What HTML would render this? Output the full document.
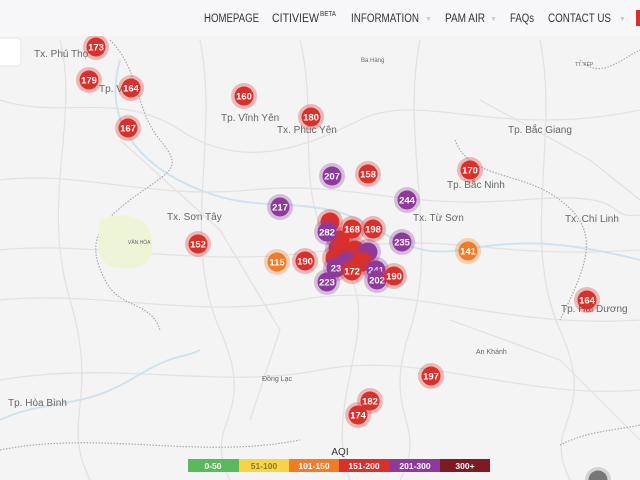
<!DOCTYPE html>
<html><head><meta charset="utf-8"><style>
html,body{margin:0;padding:0;width:640px;height:480px;overflow:hidden;background:#f4f4f4;font-family:"Liberation Sans",sans-serif}
</style></head><body>
<svg width="640" height="480" xmlns="http://www.w3.org/2000/svg" style="position:absolute;left:0;top:0">
<defs>
<g id="r"><circle r="13" fill="#d9302c" fill-opacity="0.3"/><circle r="9.5" fill="#d9302c"/></g>
<g id="p"><circle r="13" fill="#8e3a9d" fill-opacity="0.3"/><circle r="9.5" fill="#8e3a9d"/></g>
<g id="o"><circle r="13" fill="#f07c2a" fill-opacity="0.3"/><circle r="9.5" fill="#f07c2a"/></g>
</defs>
<rect width="640" height="480" fill="#f4f4f4"/>
<g fill="none" stroke="#e2e2e2" stroke-width="1.3">
<path d="M0 100 C60 120 120 90 180 130 S300 150 360 120 S500 140 640 110"/>
<path d="M0 180 C80 170 150 200 250 190 S400 210 520 200 S600 220 640 215"/>
<path d="M0 300 C100 290 200 320 300 300 S500 330 640 320"/>
<path d="M0 380 C120 360 220 390 320 370 S520 400 640 390"/>
<path d="M60 40 C80 120 40 200 70 300 S60 420 90 480"/>
<path d="M200 40 C220 140 180 240 220 330 S200 420 230 480"/>
<path d="M420 40 C400 140 440 240 410 330 S430 420 400 480"/>
<path d="M540 40 C560 140 520 240 560 330 S540 420 570 480"/>
<path d="M0 250 C100 240 200 270 330 250 S480 260 640 250"/>
<path d="M300 40 C320 120 290 200 340 260 S320 400 350 480"/>
<path d="M120 140 L220 230 L280 330 L250 420"/>
<path d="M480 100 L590 160 L640 200"/>
<path d="M450 320 L560 360 L640 440"/>
</g>
<g fill="none" stroke="#cfe3ef" stroke-width="2">
<path d="M120 60 C100 130 150 170 200 190 S280 200 330 210 S400 260 460 250 S560 240 640 260"/>
<path d="M0 420 C40 400 80 410 130 380 S180 360 200 350"/>
</g>
<g fill="none" stroke="#aaa" stroke-width="1.2" stroke-dasharray="1.5 1.5">
<path d="M110 40 C140 70 135 110 160 140 S170 170 130 200 S90 250 105 280 S150 300 160 330"/>
<path d="M580 60 C600 80 620 60 640 50"/>
<path d="M455 140 C470 180 520 170 560 200 S590 260 560 320"/>
<path d="M0 450 C100 430 200 460 300 440"/>
<path d="M560 445 C590 430 620 430 640 425"/>
</g>
<path d="M100 220 C120 210 150 215 152 240 S140 270 120 268 S95 255 100 220Z" fill="#eef5d6"/>
<g font-size="10" fill="#666">
<text x="34" y="57">Tx. Phú Thọ</text><text x="99" y="92">Tp. Vi</text>
<text x="221" y="121">Tp. Vĩnh Yên</text><text x="277" y="133">Tx. Phúc Yên</text>
<text x="508" y="133">Tp. Bắc Giang</text><text x="447" y="188">Tp. Bắc Ninh</text>
<text x="167" y="220">Tx. Sơn Tây</text><text x="413" y="221">Tx. Từ Sơn</text>
<text x="565" y="222">Tx. Chí Linh</text><text x="561" y="312">Tp. Hải Dương</text>
<text x="8" y="406">Tp. Hòa Bình</text><text x="361" y="62" font-size="6">Ba Hàng</text>
<text x="262" y="381" font-size="7">Đồng Lạc</text><text x="476" y="354" font-size="7">An Khánh</text>
<text x="575" y="66" font-size="5">TT. KÉP</text><text x="128" y="244" font-size="5">VĂN HÒA</text>
</g>
<g font-size="9.5" font-weight="bold" fill="#fff" text-anchor="middle">
<g transform="translate(96,47)"><use href="#r"/><text y="3.5">173</text></g>
<g transform="translate(89,80)"><use href="#r"/><text y="3.5">179</text></g>
<g transform="translate(131,88)"><use href="#r"/><text y="3.5">164</text></g>
<g transform="translate(128,128)"><use href="#r"/><text y="3.5">167</text></g>
<g transform="translate(244,96)"><use href="#r"/><text y="3.5">160</text></g>
<g transform="translate(311,117)"><use href="#r"/><text y="3.5">180</text></g>
<g transform="translate(332,176)"><use href="#p"/><text y="3.5">207</text></g>
<g transform="translate(368,174)"><use href="#r"/><text y="3.5">158</text></g>
<g transform="translate(470,170)"><use href="#r"/><text y="3.5">170</text></g>
<g transform="translate(407,200)"><use href="#p"/><text y="3.5">244</text></g>
<g transform="translate(280,207)"><use href="#p"/><text y="3.5">217</text></g>
<g transform="translate(198,244)"><use href="#r"/><text y="3.5">152</text></g>
<g transform="translate(402,242)"><use href="#p"/><text y="3.5">235</text></g>
<g transform="translate(468,251)"><use href="#o"/><text y="3.5">141</text></g>
<g transform="translate(277,262)"><use href="#o"/><text y="3.5">115</text></g>
<g transform="translate(305,261)"><use href="#r"/><text y="3.5">190</text></g>
<g transform="translate(330,222)"><use href="#r"/></g>
<g transform="translate(338,248)"><use href="#p"/></g>
<g transform="translate(355,250)"><use href="#r"/></g>
<g transform="translate(368,252)"><use href="#p"/></g>
<g transform="translate(335,258)"><use href="#r"/></g>
<g transform="translate(348,262)"><use href="#p"/></g>
<g transform="translate(362,262)"><use href="#r"/></g>
<g transform="translate(340,240)"><use href="#r"/></g>
<g transform="translate(327,232)"><use href="#p"/><text y="3.5">282</text></g>
<g transform="translate(352,229)"><use href="#r"/><text y="3.5">168</text></g>
<g transform="translate(373,229)"><use href="#r"/><text y="3.5">198</text></g>
<g transform="translate(336,268)"><use href="#p"/><text y="3.5">23</text></g>
<g transform="translate(376,270)"><use href="#p"/><text y="3.5">241</text></g>
<g transform="translate(327,282)"><use href="#p"/><text y="3.5">223</text></g>
<g transform="translate(352,271)"><use href="#r"/><text y="3.5">172</text></g>
<g transform="translate(377,280)"><use href="#p"/><text y="3.5">202</text></g>
<g transform="translate(394,276)"><use href="#r"/><text y="3.5">190</text></g>
<g transform="translate(587,300)"><use href="#r"/><text y="3.5">164</text></g>
<g transform="translate(431,376)"><use href="#r"/><text y="3.5">197</text></g>
<g transform="translate(370,401)"><use href="#r"/><text y="3.5">182</text></g>
<g transform="translate(358,415)"><use href="#r"/><text y="3.5">174</text></g>
<g transform="translate(598,480)"><circle r="13" fill="#888" fill-opacity="0.3"/><circle r="9.5" fill="#777"/></g>
</g>
<rect x="0" y="0" width="640" height="36" fill="#f7f7f9"/>
<rect x="-6" y="38" width="27" height="28" rx="4" fill="#fff" stroke="#e6e6e6"/>
<g font-size="11.5" fill="#333">
<text x="204" y="22" textLength="55" lengthAdjust="spacingAndGlyphs">HOMEPAGE</text>
<text x="272" y="22" textLength="47" lengthAdjust="spacingAndGlyphs">CITIVIEW</text><text x="320" y="16" font-size="7" textLength="16" lengthAdjust="spacingAndGlyphs">BETA</text>
<text x="351" y="22" textLength="68" lengthAdjust="spacingAndGlyphs">INFORMATION</text><text x="425" y="21" font-size="7" fill="#ccc">▼</text>
<text x="445" y="22" textLength="40" lengthAdjust="spacingAndGlyphs">PAM AIR</text><text x="490" y="21" font-size="7" fill="#ccc">▼</text>
<text x="510" y="22" textLength="24" lengthAdjust="spacingAndGlyphs">FAQs</text>
<text x="548" y="22" textLength="63" lengthAdjust="spacingAndGlyphs">CONTACT US</text><text x="619" y="21" font-size="7" fill="#ccc">▼</text>
</g>
<rect x="636" y="10" width="4" height="16" fill="#d9302c"/>
<text x="340" y="455" font-size="10" fill="#333" text-anchor="middle">AQI</text>
<g font-size="8.5" text-anchor="middle" font-weight="bold">
<rect x="188" y="459" width="51" height="13" fill="#5cb85c"/><text x="213" y="469" fill="#fff">0-50</text>
<rect x="239" y="459" width="50" height="13" fill="#f5d547"/><text x="264" y="469" fill="#8a7a2a">51-100</text>
<rect x="289" y="459" width="50" height="13" fill="#f07c2a"/><text x="314" y="469" fill="#fff">101-150</text>
<rect x="339" y="459" width="51" height="13" fill="#d9302c"/><text x="364" y="469" fill="#fff">151-200</text>
<rect x="390" y="459" width="50" height="13" fill="#8e3a9d"/><text x="415" y="469" fill="#fff">201-300</text>
<rect x="440" y="459" width="50" height="13" fill="#7d1a24"/><text x="465" y="469" fill="#fff">300+</text>
</g>
</svg>
</body></html>
